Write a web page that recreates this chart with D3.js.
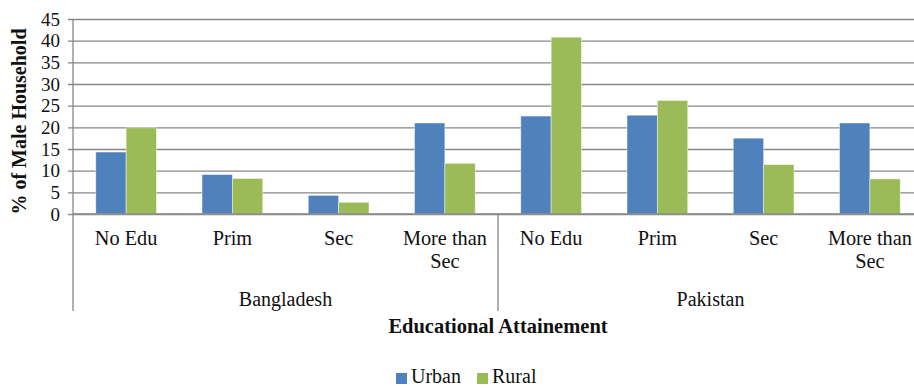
<!DOCTYPE html>
<html>
<head>
<meta charset="utf-8">
<script src="https://cdn.jsdelivr.net/npm/d3@7"></script>
<style>
  html, body { margin: 0; padding: 0; background: #fff; }
  svg, svg text { font-family: "Liberation Serif", Tinos, "Times New Roman", Times, "DejaVu Serif", serif !important; }
  svg { display: block; }
</style>
</head>
<body>
<svg id="chart" width="914" height="388"></svg>
<script>
// Share of male-headed households by educational attainment
const countries = ["Bangladesh", "Pakistan"];
const levels = ["No Edu", "Prim", "Sec", "More than Sec"];
const seriesNames = ["Urban", "Rural"];
const urban = [14.3, 9.1, 4.3, 21.0, 22.6, 22.8, 17.5, 21.0];
const rural = [19.9, 8.2, 2.7, 11.7, 40.8, 26.2, 11.4, 8.1];
const yTicks = [0, 5, 10, 15, 20, 25, 30, 35, 40, 45];
const colors = ["#4F81BD", "#9BBB59"];

const svg = d3.select("#chart");
const plotL = 73, plotR = 923, plotT = 19, plotB = 214;

// one slot per (country, level) pair
const slots = [];
countries.forEach((c, ci) => levels.forEach((l, li) => slots.push({ key: c + "|" + l, country: c, level: l, i: ci * levels.length + li })));

const x = d3.scaleBand().domain(slots.map(d => d.key)).range([plotL, plotR]).padding(0);
const xs = d3.scaleBand().domain(seriesNames).range([0, x.bandwidth()]).paddingInner(0).paddingOuter(0.75);
const y = d3.scaleLinear().domain([0, 45]).range([plotB, plotT]);

// horizontal gridlines with tick stubs
const yAxis = d3.axisLeft(y).tickValues(yTicks).tickSize(-(plotR - plotL) - 5).tickPadding(13).tickFormat(d3.format("d"));
const gy = svg.append("g").attr("transform", `translate(${plotL},0)`).call(yAxis);
gy.attr("font-family", null);
gy.select(".domain").remove();
gy.selectAll(".tick line").attr("x1", -5).attr("x2", plotR - plotL).attr("stroke", "#878787").attr("stroke-width", 1.3);
gy.selectAll(".tick text").attr("font-size", 19).attr("fill", "#111");

// bars
const values = [urban, rural];
const g = svg.append("g");
seriesNames.forEach((s, si) => {
  g.selectAll(null).data(slots).enter().append("rect")
    .attr("x", d => x(d.key) + xs(s))
    .attr("width", xs.bandwidth())
    .attr("y", d => y(values[si][d.i]))
    .attr("height", d => y(0) - y(values[si][d.i]))
    .attr("fill", colors[si])
    .attr("stroke", "rgba(255,255,255,0.55)")
    .attr("stroke-width", 0.8);
});

// category axis line
svg.append("line").attr("x1", plotL).attr("x2", plotR).attr("y1", y(0)).attr("y2", y(0))
  .attr("stroke", "#878787").attr("stroke-width", 1.3);
// vertical axis line and group separator
const sepX = x(countries[1] + "|" + levels[0]);
svg.append("line").attr("x1", plotL).attr("x2", plotL).attr("y1", plotT).attr("y2", 311)
  .attr("stroke", "#878787").attr("stroke-width", 1.3);
svg.append("line").attr("x1", sepX).attr("x2", sepX).attr("y1", y(0)).attr("y2", 311)
  .attr("stroke", "#878787").attr("stroke-width", 1.3);

// level labels (wrapped)
const lvl = svg.append("g").attr("font-size", 20.3).attr("fill", "#111").attr("text-anchor", "middle");
slots.forEach(d => {
  const lines = d.level === "More than Sec" ? ["More than", "Sec"] : [d.level];
  const cx = x(d.key) + x.bandwidth() / 2;
  const t = lvl.append("text").attr("x", cx).attr("y", 245);
  lines.forEach((ln, k) => t.append("tspan").attr("x", cx).attr("dy", k === 0 ? 0 : 23).text(ln));
});

// country labels
countries.forEach(c => {
  const x0 = x(c + "|" + levels[0]);
  const x1 = x(c + "|" + levels[levels.length - 1]) + x.bandwidth();
  svg.append("text").attr("x", (x0 + x1) / 2).attr("y", 306).attr("text-anchor", "middle")
    .attr("font-size", 20).attr("fill", "#111").text(c);
});

// axis titles
svg.append("text").attr("x", (plotL + plotR) / 2).attr("y", 333).attr("text-anchor", "middle")
  .attr("font-size", 20.5).attr("font-weight", "bold").attr("fill", "#111").text("Educational Attainement");
svg.append("text").attr("transform", `translate(26,${(plotT + plotB) / 2 + 5}) rotate(-90)`)
  .attr("text-anchor", "middle").attr("font-size", 20).attr("font-weight", "bold").attr("fill", "#111")
  .text("% of Male Household");

// legend
const leg = svg.append("g").attr("font-size", 20).attr("fill", "#111");
const legX = [396, 477];
seriesNames.forEach((s, si) => {
  leg.append("rect").attr("x", legX[si]).attr("y", 373).attr("width", 11).attr("height", 11).attr("fill", colors[si]);
  leg.append("text").attr("x", legX[si] + 15).attr("y", 383).text(s);
});
</script>
</body>
</html>
